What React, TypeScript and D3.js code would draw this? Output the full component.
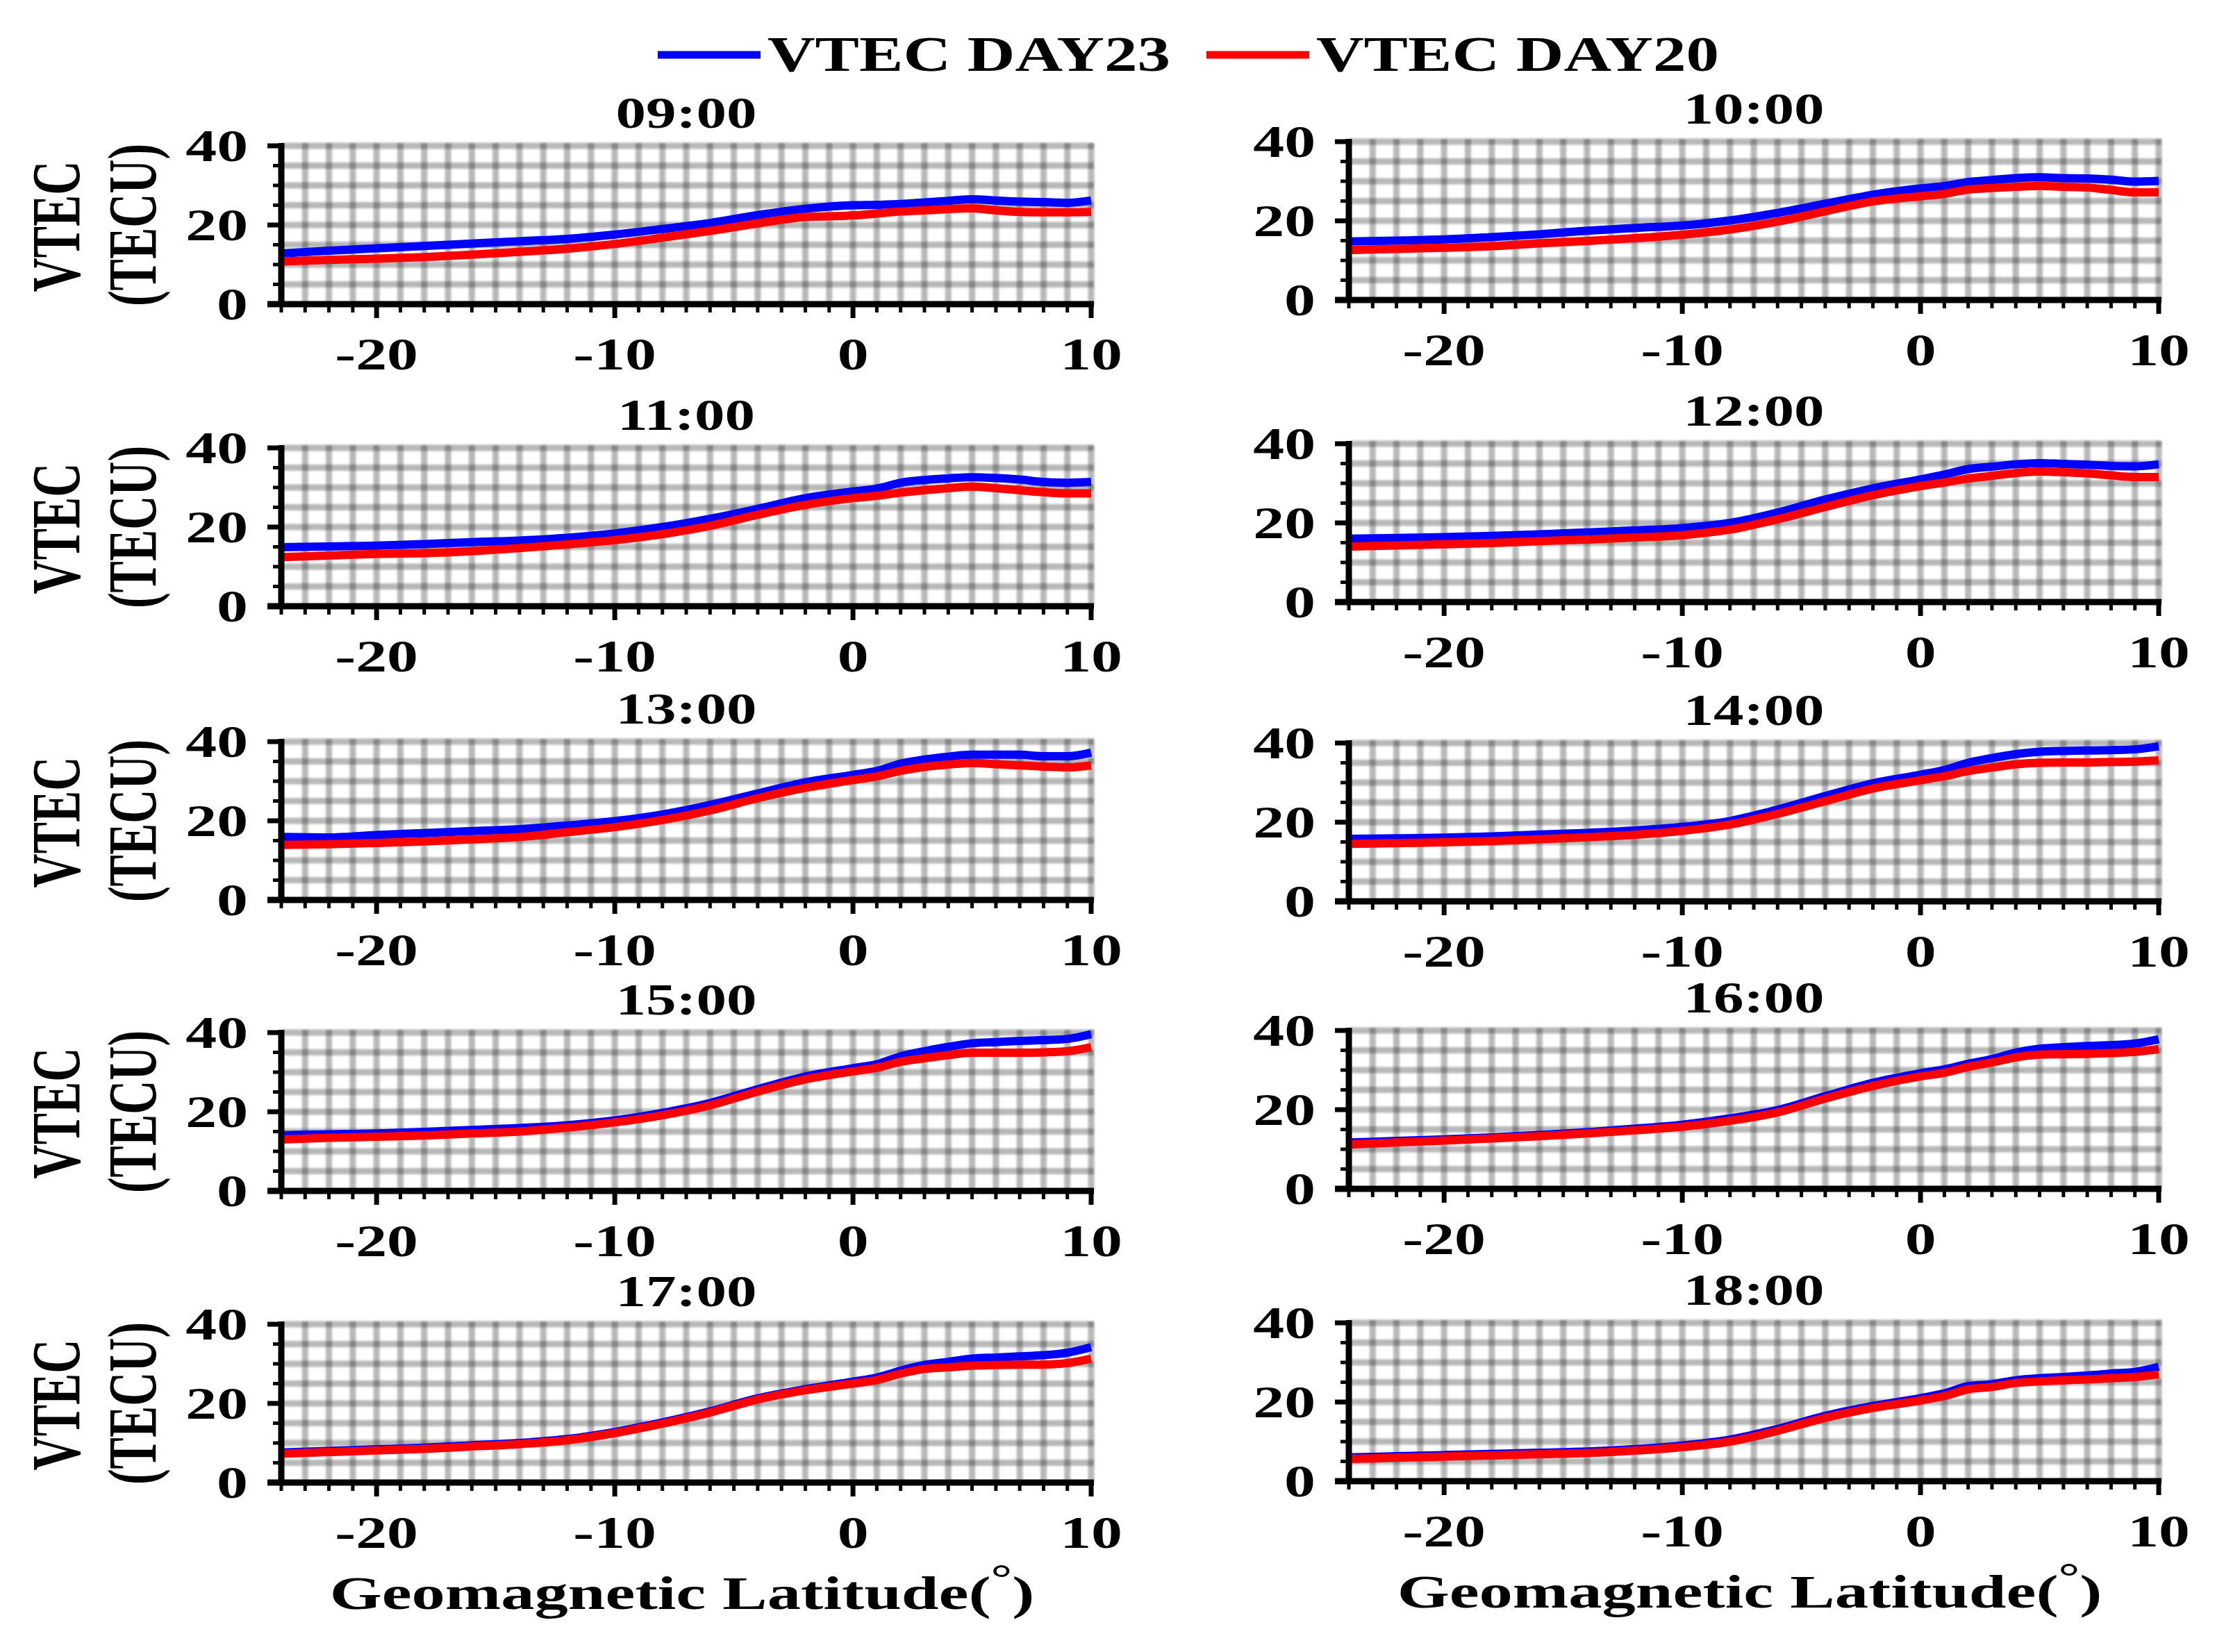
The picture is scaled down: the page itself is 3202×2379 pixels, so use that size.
import React from 'react';
import * as d3 from 'd3';

// geomagnetic latitude samples (deg)
const LAT = [-24, -22, -20, -18, -16, -14, -12, -10, -8, -6, -4, -2, 0, 1, 2, 3, 4, 5, 6, 7, 8, 9, 10];

const HOURS = ['09:00', '10:00', '11:00', '12:00', '13:00', '14:00', '15:00', '16:00', '17:00', '18:00'];

// VTEC (TECU), day 23 (blue) and day 20 (red)
const DAY23_09 = [12.8, 13.5, 14.1, 14.7, 15.3, 15.9, 16.5, 17.6, 19.0, 20.5, 22.5, 24.1, 25.0, 25.1, 25.3, 25.7, 26.1, 26.5, 26.2, 25.9, 25.8, 25.6, 26.2];
const DAY20_09 = [10.8, 11.2, 11.5, 11.9, 12.5, 13.2, 14.0, 15.2, 16.8, 18.5, 20.4, 22.0, 22.4, 22.9, 23.4, 23.7, 24.0, 24.2, 23.7, 23.3, 23.2, 23.2, 23.3];
const DAY23_10 = [14.8, 15.0, 15.3, 15.9, 16.6, 17.5, 18.2, 18.8, 20.1, 22.0, 24.3, 26.6, 28.2, 28.8, 29.8, 30.3, 30.8, 31.0, 30.8, 30.7, 30.4, 29.9, 30.1];
const DAY20_10 = [12.6, 12.9, 13.2, 13.6, 14.3, 14.9, 15.6, 16.5, 17.8, 19.8, 22.4, 24.9, 26.2, 26.8, 27.9, 28.3, 28.6, 28.8, 28.6, 28.4, 27.8, 27.2, 27.2];
const DAY23_11 = [14.9, 15.1, 15.3, 15.7, 16.2, 16.6, 17.3, 18.4, 20.0, 22.1, 24.6, 27.3, 29.0, 29.7, 31.2, 31.9, 32.3, 32.6, 32.4, 32.0, 31.4, 31.2, 31.4];
const DAY20_11 = [12.4, 12.8, 13.2, 13.4, 13.9, 14.7, 15.6, 16.7, 18.2, 20.3, 23.1, 25.6, 27.3, 27.9, 28.7, 29.3, 29.8, 30.2, 29.8, 29.3, 28.8, 28.5, 28.5];
const DAY23_12 = [16.0, 16.2, 16.4, 16.7, 17.1, 17.6, 18.1, 18.7, 20.0, 22.6, 25.9, 28.7, 31.0, 32.2, 33.6, 34.2, 34.8, 35.1, 34.9, 34.7, 34.4, 34.3, 34.8];
const DAY20_12 = [14.0, 14.3, 14.6, 14.9, 15.4, 15.8, 16.3, 16.9, 18.3, 20.9, 24.0, 27.0, 29.3, 30.2, 31.2, 31.9, 32.6, 33.0, 32.8, 32.5, 32.0, 31.6, 31.6];
const DAY23_13 = [15.9, 15.8, 16.4, 16.9, 17.4, 17.9, 18.8, 19.9, 21.6, 24.0, 26.9, 29.7, 31.6, 32.6, 34.4, 35.5, 36.2, 36.7, 36.7, 36.7, 36.3, 36.3, 37.2];
const DAY20_13 = [13.9, 14.1, 14.4, 14.8, 15.3, 15.9, 17.1, 18.4, 20.2, 22.6, 25.7, 28.3, 30.3, 31.2, 32.6, 33.6, 34.2, 34.6, 34.3, 34.0, 33.7, 33.5, 34.0];
const DAY23_14 = [15.8, 15.9, 16.1, 16.4, 16.9, 17.3, 17.9, 18.8, 20.3, 23.2, 26.6, 29.8, 32.0, 33.2, 35.0, 36.2, 37.2, 37.8, 38.0, 38.1, 38.2, 38.4, 39.2];
const DAY20_14 = [14.5, 14.7, 14.9, 15.2, 15.7, 16.2, 16.8, 17.8, 19.4, 22.1, 25.3, 28.5, 30.6, 31.6, 32.9, 33.8, 34.6, 35.0, 35.1, 35.1, 35.2, 35.3, 35.6];
const DAY23_15 = [14.1, 14.3, 14.5, 14.9, 15.4, 15.9, 16.6, 17.8, 19.7, 22.2, 25.7, 28.9, 31.0, 32.0, 34.0, 35.3, 36.4, 37.3, 37.6, 37.9, 38.1, 38.4, 39.6];
const DAY20_15 = [13.0, 13.4, 13.7, 14.0, 14.5, 15.0, 16.0, 17.3, 19.1, 21.6, 25.1, 28.2, 30.2, 31.1, 32.6, 33.5, 34.3, 34.9, 34.9, 34.9, 35.0, 35.3, 36.3];
const DAY23_16 = [11.7, 12.1, 12.5, 13.0, 13.6, 14.3, 15.2, 16.2, 17.8, 19.9, 23.4, 26.8, 29.2, 30.2, 31.6, 32.8, 34.4, 35.4, 35.8, 36.1, 36.3, 36.7, 37.8];
const DAY20_16 = [11.2, 11.7, 12.2, 12.7, 13.3, 14.0, 14.8, 15.7, 17.2, 19.3, 22.8, 26.0, 28.4, 29.3, 30.8, 31.9, 33.2, 33.9, 34.0, 34.1, 34.3, 34.6, 35.3];
const DAY23_17 = [7.6, 8.0, 8.4, 8.8, 9.4, 10.0, 11.0, 12.8, 15.2, 18.0, 21.3, 23.6, 25.5, 26.5, 28.3, 29.7, 30.5, 31.3, 31.6, 31.9, 32.2, 32.8, 34.2];
const DAY20_17 = [7.3, 7.7, 8.1, 8.5, 9.1, 9.7, 10.7, 12.5, 14.9, 17.7, 21.0, 23.3, 25.0, 25.9, 27.5, 28.7, 29.1, 29.5, 29.7, 29.8, 29.8, 30.2, 31.3];
const DAY23_18 = [6.0, 6.3, 6.6, 6.9, 7.2, 7.5, 8.1, 9.0, 10.5, 13.2, 16.5, 19.0, 21.0, 22.2, 24.0, 24.5, 25.5, 26.0, 26.3, 26.7, 27.2, 27.6, 28.9];
const DAY20_18 = [5.6, 5.9, 6.2, 6.5, 6.8, 7.1, 7.7, 8.6, 10.0, 12.7, 16.0, 18.5, 20.4, 21.5, 23.2, 23.8, 24.8, 25.2, 25.5, 25.7, 26.0, 26.3, 27.0];

const DAY23 = [DAY23_09, DAY23_10, DAY23_11, DAY23_12, DAY23_13, DAY23_14, DAY23_15, DAY23_16, DAY23_17, DAY23_18];
const DAY20 = [DAY20_09, DAY20_10, DAY20_11, DAY20_12, DAY20_13, DAY20_14, DAY20_15, DAY20_16, DAY20_17, DAY20_18];

const X_TICKS = [-20, -10, 0, 10];
const Y_TICKS = [0, 20, 40];
const LEGEND = ['VTEC DAY23', 'VTEC DAY20'];

// layout (pixels)
const W = 3202;
const H = 2379;
const COL_X = [[405, 1571], [1942, 3108]];
const ROW_TOP = [[210, 645, 1068, 1487, 1907], [204, 639, 1070, 1484, 1905]];
const PH = 228;
const SX = 1.36; // the figure is stretched horizontally
const FONT = '"Liberation Serif", "Times New Roman", serif';
const BLUE = '#0000ff';
const RED = '#ff0000';

const Txt = ({ x, y, size, anchor = 'middle', sx = SX, children }: any) => (
  <text
    transform={`translate(${x},${y}) scale(${sx},1)`}
    textAnchor={anchor}
    fontFamily={FONT}
    fontWeight="bold"
    fontSize={size}
    fill="#000"
  >
    {children}
  </text>
);

const Panel = ({ idx }: { idx: number }) => {
  const col = idx % 2;
  const row = Math.floor(idx / 2);
  const [x0, x1] = COL_X[col];
  const top = ROW_TOP[col][row];
  const bottom = top + PH;

  const x = d3.scaleLinear().domain([-24, 10]).range([x0, x1]);
  const y = d3.scaleLinear().domain([0, 40]).range([bottom, top]);
  const line = d3
    .line<number>()
    .x((_, i) => x(LAT[i]))
    .y(d => y(d))
    .curve(d3.curveMonotoneX);

  const minorX = d3.range(-24, 11, 1);
  const minorY = d3.range(0, 41, 5);

  return (
    <g>
      {/* grid */}
      <g stroke="#000" strokeOpacity={0.28} strokeWidth={9} filter="url(#soft)">
        {minorX.slice(1).map(t => (
          <line key={`gx${t}`} x1={x(t)} x2={x(t)} y1={top - 4} y2={bottom} />
        ))}
        {minorY.slice(1).map(t => (
          <line key={`gy${t}`} x1={x0} x2={x1 + 4} y1={y(t)} y2={y(t)} />
        ))}
      </g>

      {/* series */}
      <path d={line(DAY23[idx]) || ''} fill="none" stroke={BLUE} strokeWidth={12} strokeLinejoin="round" />
      <path d={line(DAY20[idx]) || ''} fill="none" stroke={RED} strokeWidth={12} strokeLinejoin="round" />

      {/* y axis */}
      <line x1={x0} x2={x0} y1={top - 4} y2={bottom + 4} stroke="#000" strokeWidth={9} />
      {minorY.map(t => (
        <line
          key={`ty${t}`}
          x1={x0}
          x2={x0 - (Y_TICKS.includes(t) ? 20 : 12)}
          y1={y(t)}
          y2={y(t)}
          stroke="#000"
          strokeWidth={Y_TICKS.includes(t) ? 7 : 5}
        />
      ))}
      {Y_TICKS.map(t => (
        <Txt key={`ly${t}`} x={x0 - 48} y={y(t) + 22} size={66} anchor="end">
          {t}
        </Txt>
      ))}

      {/* x axis */}
      <line x1={x0 - 20} x2={x1 + 4} y1={bottom} y2={bottom} stroke="#000" strokeWidth={9} />
      {minorX.map(t => (
        <line
          key={`tx${t}`}
          x1={x(t)}
          x2={x(t)}
          y1={bottom}
          y2={bottom + (X_TICKS.includes(t) ? 20 : 12)}
          stroke="#000"
          strokeWidth={X_TICKS.includes(t) ? 7 : 5}
        />
      ))}
      {X_TICKS.map(t => (
        <Txt key={`lx${t}`} x={x(t)} y={bottom + 94} size={66}>
          {t}
        </Txt>
      ))}

      {/* title */}
      <Txt x={(x0 + x1) / 2} y={top - 26} size={64}>
        {HOURS[idx]}
      </Txt>

      {/* y label */}
      {col === 0 && (
        <g fontFamily={FONT} fontWeight="bold" fontSize={68} textAnchor="middle">
          <text transform={`translate(114,${(top + bottom) / 2 + 2}) scale(1.45,1) rotate(-90)`}>VTEC</text>
          <text transform={`translate(224,${(top + bottom) / 2}) scale(1.45,1) rotate(-90)`}>(TECU)</text>
        </g>
      )}

      {/* x label */}
      {row === 4 && (
        <Txt x={(x0 + x1) / 2 - 6} y={bottom + 182} size={68} sx={1.42}>
          Geomagnetic Latitude(
          <tspan dy={-26} fontSize={54}>°</tspan>
          <tspan dy={26}>)</tspan>
        </Txt>
      )}
    </g>
  );
};

const App = () => {
  const legendItems = [
    { label: LEGEND[0], color: BLUE, lx: 947, tx: 1105 },
    { label: LEGEND[1], color: RED, lx: 1737, tx: 1895 },
  ];
  return (
    <svg
      width={W}
      height={H}
      viewBox={`0 0 ${W} ${H}`}
      style={{ position: 'absolute', left: 0, top: 0, background: '#fff' }}
    >
      <defs>
        <filter id="soft" x="-5%" y="-5%" width="110%" height="110%">
          <feGaussianBlur stdDeviation={1.6} />
        </filter>
      </defs>
      <rect width={W} height={H} fill="#fff" />

      {/* legend */}
      {legendItems.map(d => (
        <g key={d.label}>
          <line x1={d.lx} x2={d.lx + 148} y1={79} y2={79} stroke={d.color} strokeWidth={11} />
          <Txt x={d.tx} y={102} size={72} anchor="start" sx={1.32}>
            {d.label}
          </Txt>
        </g>
      ))}

      {HOURS.map((_, i) => (
        <Panel key={HOURS[i]} idx={i} />
      ))}
    </svg>
  );
};

export default App;
